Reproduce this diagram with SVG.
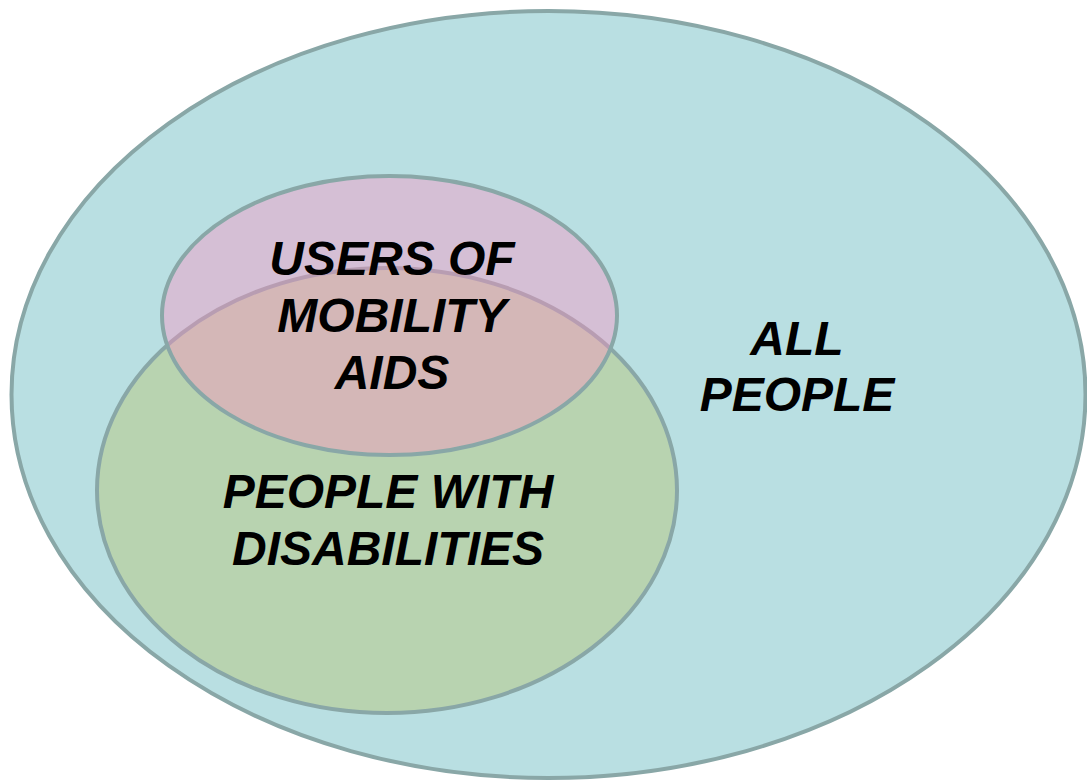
<svg xmlns="http://www.w3.org/2000/svg" width="1087" height="782" viewBox="0 0 1087 782">
<style>
.shape{stroke:#89a7a7;stroke-width:4}
.lbl{font-family:"Liberation Sans",Arial,sans-serif;font-weight:bold;font-style:italic;font-size:48px;fill:#000;text-anchor:middle}
</style>
<rect width="1087" height="782" fill="#ffffff"/>
<g id="all-people">
<ellipse class="shape" cx="548.5" cy="394.5" rx="537" ry="383.5" fill="#b9dfe2"/>
<text class="lbl" x="797" y="355">ALL</text>
<text class="lbl" x="797" y="411">PEOPLE</text>
</g>
<g id="people-with-disabilities">
<ellipse class="shape" cx="387" cy="490.5" rx="290" ry="222.5" fill="#b8d3b0"/>
</g>
<g id="users-of-mobility-aids">
<ellipse cx="389.5" cy="315.5" rx="227.5" ry="139.5" fill="#ff8fc4" fill-opacity="0.4"/>
<ellipse class="shape" cx="389.5" cy="315.5" rx="227.5" ry="139.5" fill="none"/>
<text class="lbl" x="392" y="275">USERS OF</text>
<text class="lbl" x="392" y="332">MOBILITY</text>
<text class="lbl" x="392" y="389">AIDS</text>
</g>
<g id="people-with-disabilities-label">
<text class="lbl" x="388" y="508">PEOPLE WITH</text>
<text class="lbl" x="388" y="565">DISABILITIES</text>
</g>
<g id="connectors"/>
</svg>
